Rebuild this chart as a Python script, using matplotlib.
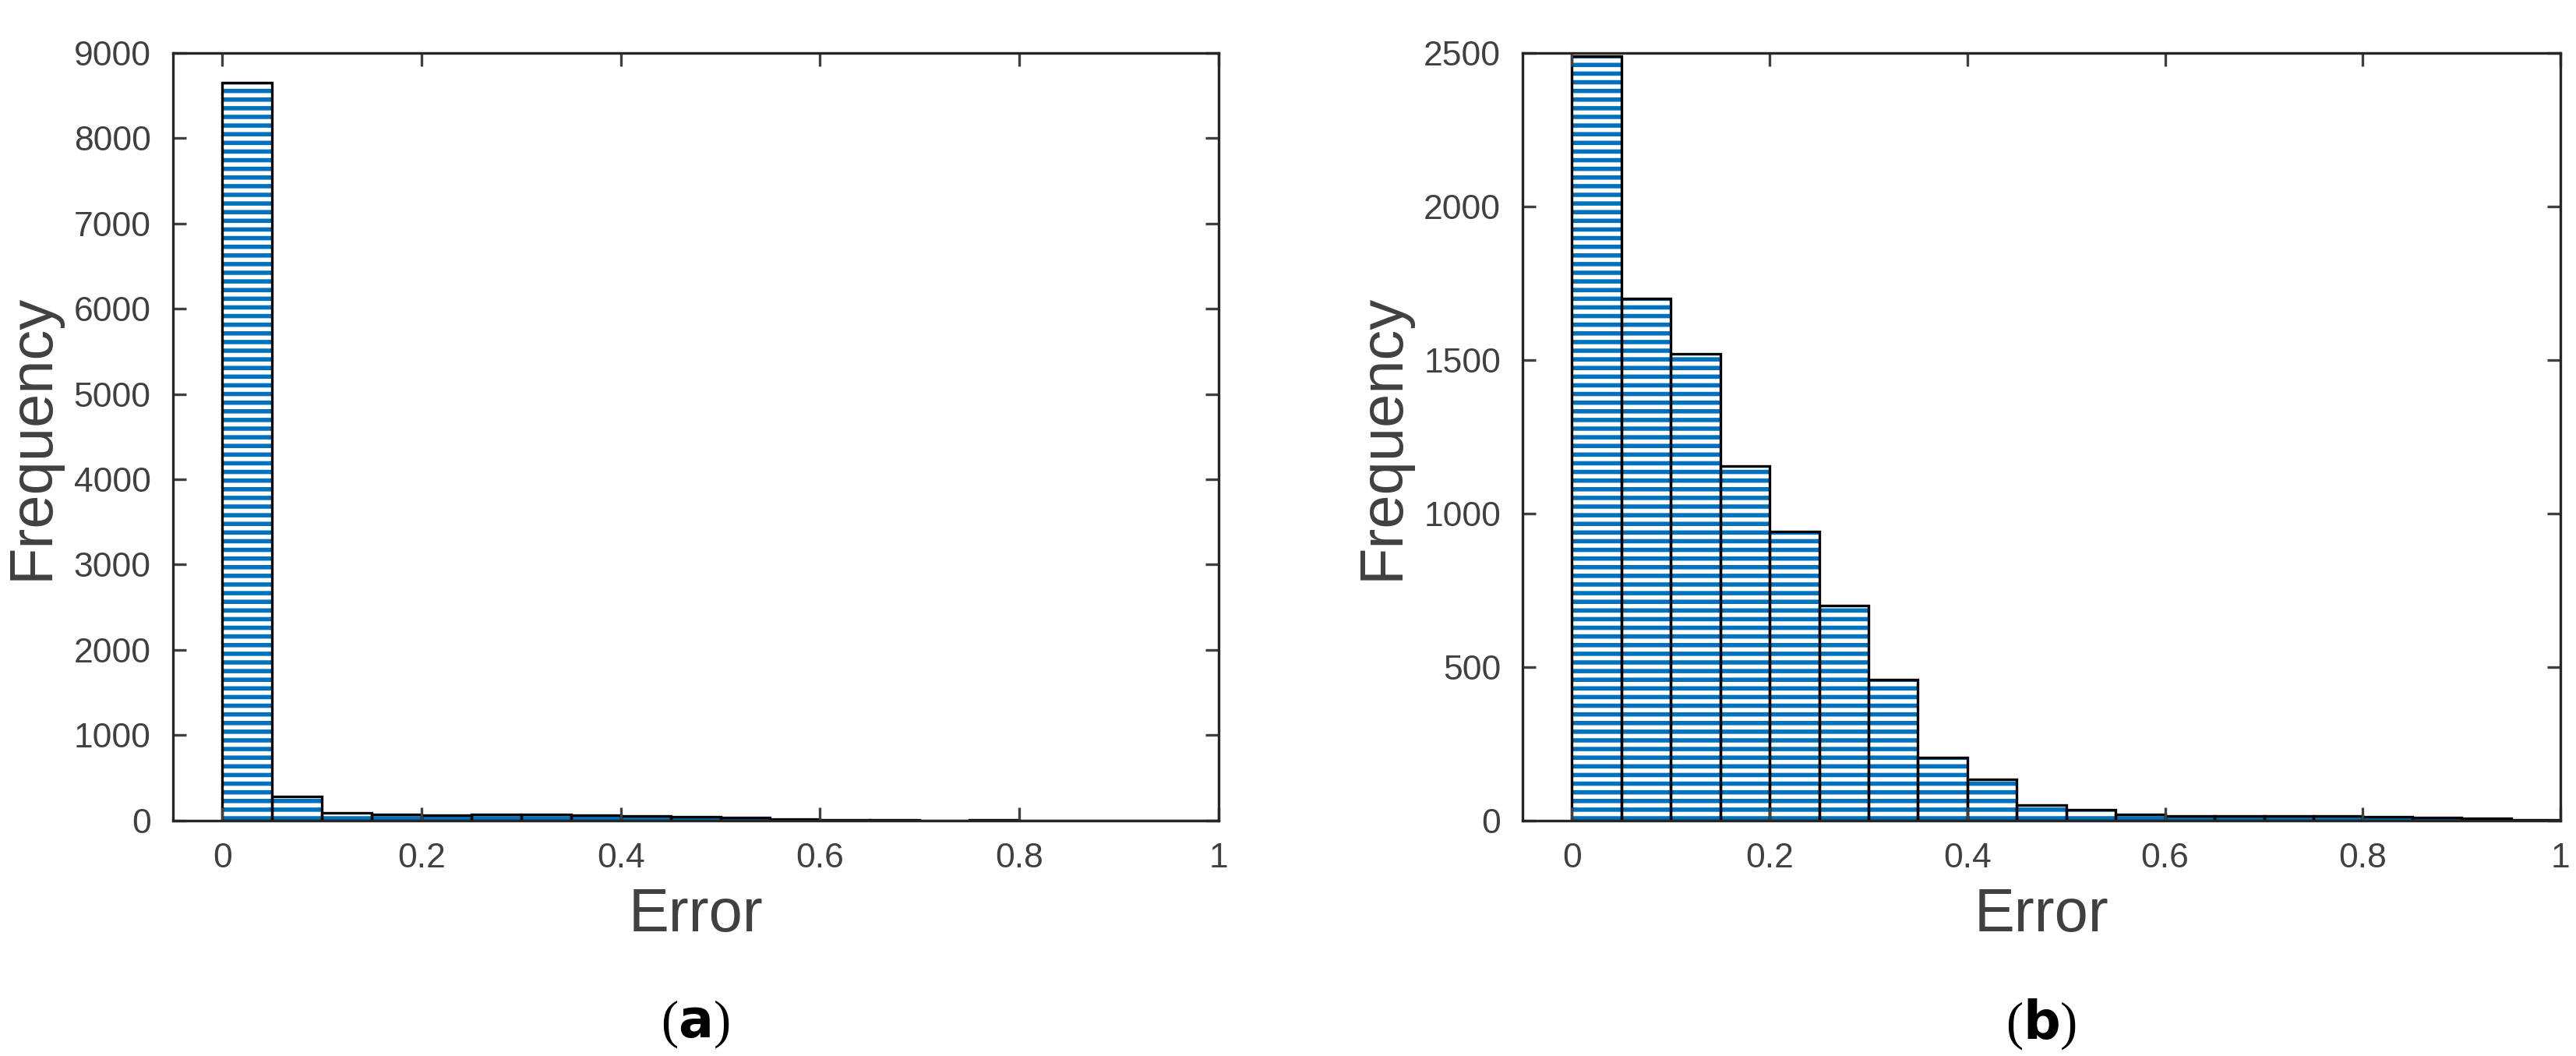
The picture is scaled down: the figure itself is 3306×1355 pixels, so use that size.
import numpy as np
import matplotlib.pyplot as plt

plt.rcParams['font.family'] = ['Liberation Sans', 'DejaVu Sans']
plt.rcParams['hatch.linewidth'] = 2.0

edges = np.round(np.arange(0, 1.0001, 0.05), 2)
counts_a = [8650, 279, 89, 71, 62, 74, 74, 62, 53, 45, 33, 21, 5, 5, 0, 5, 1, 1, 1, 1]
counts_b = [2490, 1700, 1520, 1155, 940, 700, 460, 205, 135, 50, 35, 20, 15, 15, 15, 15, 12, 10, 6, 3]
blue = '#0072BD'
grey = '#404040'

fig = plt.figure(figsize=(16.53, 6.775), dpi=200)
panels = [
    ([0.067, 0.223, 0.406, 0.727], counts_a, 9000, np.arange(0, 9001, 1000), '---', '(a)'),
    ([0.591, 0.223, 0.403, 0.727], counts_b, 2500, np.arange(0, 2501, 500), '---', '(b)'),
]
for rect, counts, ymax, yt, hatch, tag in panels:
    ax = fig.add_axes(rect)
    ax.bar(edges[:-1], counts, width=0.05, align='edge', color='white',
           edgecolor=blue, hatch=hatch, linewidth=0)
    ax.bar(edges[:-1], counts, width=0.05, align='edge', fill=False,
           edgecolor='black', linewidth=1.2)
    ax.set_xlim(-0.05, 1)
    ax.set_ylim(0, ymax)
    ax.set_xticks([0, 0.2, 0.4, 0.6, 0.8, 1])
    ax.set_xticklabels(['0', '0.2', '0.4', '0.6', '0.8', '1'])
    ax.set_yticks(yt)
    ax.tick_params(direction='in', top=True, right=True, labelsize=16,
                   colors=grey, length=6, width=1.2, pad=10)
    for s in ax.spines.values():
        s.set_color('#262626')
        s.set_linewidth(1.2)
    ax.set_xlabel('Error', fontsize=28, color=grey, labelpad=6)
    ax.set_ylabel('Frequency', fontsize=28, color=grey, labelpad=6)
    ax.text(0.5, -0.265, r'($\mathbf{' + tag[1] + r'}$)', transform=ax.transAxes,
            ha='center', va='center', fontsize=24, family='Liberation Serif')

fig.savefig('out.png', dpi=200)
